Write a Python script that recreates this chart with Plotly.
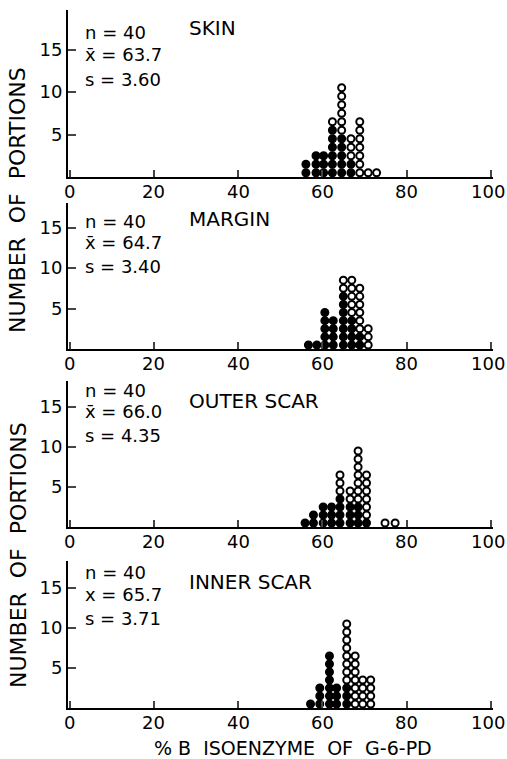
import plotly.graph_objects as go

# ---------------- data ----------------
panel_titles = ["SKIN", "MARGIN", "OUTER SCAR", "INNER SCAR"]
panel_n = ["40", "40", "40", "40"]
panel_mean = ["63.7", "64.7", "66.0", "65.7"]
panel_sd = ["3.60", "3.40", "4.35", "3.71"]

# column positions (% B isoenzyme) and number of filled / open dots per column
skin_pos = [56.1, 58.5, 60.3, 62.4, 64.6, 66.8, 68.9, 70.9, 72.9]
skin_filled = [2, 3, 3, 6, 5, 2, 0, 0, 0]
skin_open = [0, 0, 0, 1, 6, 3, 7, 1, 1]

margin_pos = [56.7, 58.7, 60.6, 62.6, 65.0, 67.0, 68.9, 70.9]
margin_filled = [1, 1, 5, 4, 7, 4, 2, 0]
margin_open = [0, 0, 0, 0, 2, 5, 6, 3]

outer_pos = [55.9, 57.9, 60.2, 62.2, 64.2, 66.6, 68.5, 70.5, 74.9, 77.3]
outer_filled = [1, 2, 3, 3, 4, 3, 3, 1, 0, 0]
outer_open = [0, 0, 0, 0, 3, 2, 7, 6, 1, 1]

inner_pos = [57.2, 59.4, 61.7, 63.4, 65.8, 67.8, 69.6, 71.5]
inner_filled = [1, 3, 7, 3, 3, 0, 0, 0]
inner_open = [0, 0, 0, 0, 8, 7, 4, 4]

x_ticks = [0, 20, 40, 60, 80, 100]
x_tick_labels = ["0", "20", "40", "60", "80", "100"]
y_ticks = [5, 10, 15]
x_title = "% B  ISOENZYME  OF  G-6-PD"
y_title = "NUMBER  OF  PORTIONS"

panels_data = [
    (skin_pos, skin_filled, skin_open),
    (margin_pos, margin_filled, margin_open),
    (outer_pos, outer_filled, outer_open),
    (inner_pos, inner_filled, inner_open),
]

# ---------------- layout geometry (pixels) ----------------
W, H = 507, 759
FONT = "DejaVu Sans"
x_range = [-0.4, 100.6]
x_px = (68.1, 493.2)
# (top, bottom, px per count)
panel_px = [(10, 177, 8.5), (203, 349, 8.1), (381, 527, 8.0), (561, 708, 8.0)]


def fx(px):
    return px / W


def fy(py):
    return 1 - py / H


fig = go.Figure()
layout = dict(
    width=W, height=H,
    margin=dict(l=0, r=0, t=0, b=0),
    paper_bgcolor="white", plot_bgcolor="white",
    showlegend=False,
    font=dict(family=FONT, color="black"),
)

annotations = []
for i, ((pos, filled, opn), (top, bot, ppu)) in enumerate(zip(panels_data, panel_px)):
    xa = "xaxis" if i == 0 else f"xaxis{i+1}"
    ya = "yaxis" if i == 0 else f"yaxis{i+1}"
    xr = "x" if i == 0 else f"x{i+1}"
    yr = "y" if i == 0 else f"y{i+1}"
    fxs, fys, oxs, oys = [], [], [], []
    for p, nf, no in zip(pos, filled, opn):
        for k in range(nf):
            fxs.append(p)
            fys.append(k + 0.5)
        for k in range(nf, nf + no):
            oxs.append(p)
            oys.append(k + 0.5)
    fig.add_trace(go.Scatter(
        x=fxs, y=fys, mode="markers", xaxis=xr, yaxis=yr,
        marker=dict(symbol="circle", size=7.5, color="black",
                    line=dict(color="black", width=1.5)),
        hoverinfo="skip"))
    fig.add_trace(go.Scatter(
        x=oxs, y=oys, mode="markers", xaxis=xr, yaxis=yr,
        marker=dict(symbol="circle", size=7, color="white",
                    line=dict(color="black", width=2)),
        hoverinfo="skip"))
    layout[xa] = dict(
        domain=[fx(x_px[0]), fx(x_px[1])], range=x_range, anchor=yr,
        tickvals=x_ticks, ticks="inside", ticklen=7, tickwidth=2,
        showticklabels=False,
        showline=True, linewidth=2, linecolor="black", showgrid=False,
        zeroline=False,
    )
    # x tick labels placed just under the axis line, as in the original
    for tv, tl in zip(x_ticks, x_tick_labels):
        annotations.append(dict(text=tl, x=tv, xref=xr, y=fy(bot + 14), yref="paper",
                                xanchor="center", yanchor="middle", showarrow=False,
                                xshift=-3 if tv == 100 else 0,
                                font=dict(size=18, family=FONT)))
    ymax = (bot - top) / ppu
    layout[ya] = dict(
        domain=[fy(bot), fy(top)], range=[0, ymax], anchor=xr,
        tickvals=y_ticks, ticks="inside", ticklen=8, tickwidth=2,
        showline=True, linewidth=2, linecolor="black", showgrid=False,
        zeroline=False, tickfont=dict(size=18, family=FONT),
    )

# stats text and titles (pixel positions)
stat_y = [(33, 55, 80), (221, 243, 266), (390, 411, 435), (572, 594, 618)]
title_y = [28, 219, 401, 582]
for i in range(4):
    ny, my, sy = stat_y[i]
    xbar = "x\u0304" if i < 3 else "x"
    for txt, yy in ((f"n = {panel_n[i]}", ny), (f"{xbar} = {panel_mean[i]}", my),
                    (f"s = {panel_sd[i]}", sy)):
        annotations.append(dict(text=txt, x=fx(83), y=fy(yy), xref="paper", yref="paper",
                                xanchor="left", yanchor="middle", showarrow=False,
                                font=dict(size=18, family=FONT)))
    annotations.append(dict(text=panel_titles[i], x=fx(187), y=fy(title_y[i]),
                            xref="paper", yref="paper", xanchor="left", yanchor="middle",
                            showarrow=False, font=dict(size=20, family=FONT)))

annotations.append(dict(text=x_title, x=fx(293), y=fy(748), xref="paper", yref="paper",
                        xanchor="center", yanchor="middle", showarrow=False,
                        font=dict(size=19, family=FONT)))
for cy in (200, 555):
    annotations.append(dict(text=y_title, x=fx(18), y=fy(cy), xref="paper", yref="paper",
                            xanchor="center", yanchor="middle", showarrow=False, textangle=-90,
                            font=dict(size=22, family=FONT)))

layout["annotations"] = annotations
fig.update_layout(**layout)
fig.write_html("out.html", config={"displayModeBar": False},
               post_script="document.body.style.margin='0';")
